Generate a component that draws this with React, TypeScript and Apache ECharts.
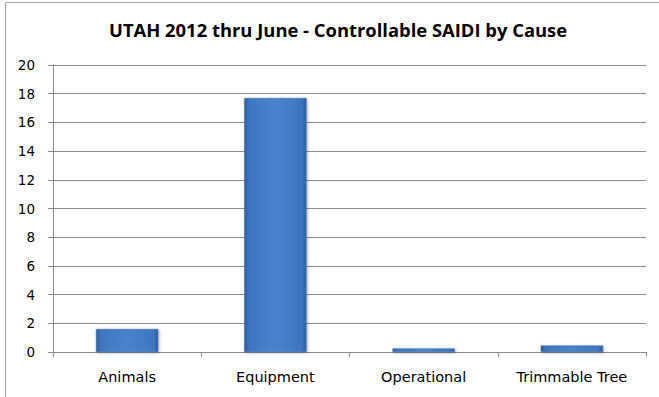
import React, { useEffect, useRef } from "react";
import * as echarts from "echarts";

const categories = ["Animals", "Equipment", "Operational", "Trimmable Tree"];
const saidiValues = [1.6, 17.7, 0.25, 0.45];
const titleText = "UTAH 2012 thru June - Controllable SAIDI by Cause";

export default function App() {
  const ref = useRef<HTMLDivElement>(null);
  useEffect(() => {
    if (!ref.current) return;
    const chart = echarts.init(ref.current, null, { renderer: "svg" });
    const titleFont = "'Open Sans', sans-serif";
    const font = "'DejaVu Sans', Verdana, sans-serif";
    chart.setOption({
      animation: false,
      backgroundColor: "#ffffff",
      title: {
        text: titleText,
        left: 104,
        top: 15,
        textStyle: { fontFamily: titleFont, fontSize: 18.4, fontWeight: "bold", color: "#000" },
      },
      graphic: [
        {
          type: "rect",
          shape: { x: 5.5, y: 2.5, width: 800, height: 600 },
          style: { fill: "none", stroke: "#a6a6a6", lineWidth: 1 },
          silent: true,
        },
      ],
      grid: { left: 53, right: 13, top: 65, bottom: 45 },
      xAxis: {
        type: "category",
        data: categories,
        axisLine: { lineStyle: { color: "#8c8c8c", width: 1 } },
        axisTick: { show: true, length: 5, lineStyle: { color: "#8c8c8c" } },
        axisLabel: { fontFamily: font, fontSize: 14.5, color: "#000", margin: 17 },
      },
      yAxis: {
        type: "value",
        min: 0,
        max: 20,
        interval: 2,
        axisLine: { show: true, lineStyle: { color: "#8c8c8c" } },
        axisTick: { show: true, length: 5, lineStyle: { color: "#8c8c8c" } },
        axisLabel: { fontFamily: font, fontSize: 13.5, color: "#000", margin: 18 },
        splitLine: { lineStyle: { color: "#8c8c8c", width: 1 } },
      },
      series: [
        {
          type: "bar",
          data: saidiValues,
          barWidth: "42%",
          itemStyle: {
            color: new echarts.graphic.LinearGradient(0, 0, 1, 0, [
              { offset: 0, color: "#2f5f9e" },
              { offset: 0.08, color: "#3f76bf" },
              { offset: 0.5, color: "#4a82cc" },
              { offset: 0.92, color: "#3f76bf" },
              { offset: 1, color: "#2f5f9e" },
            ]),
            borderColor: "#3a6aa8",
            borderWidth: 0.5,
            shadowColor: "rgba(0,0,0,0.35)",
            shadowBlur: 3,
            shadowOffsetX: 1,
            shadowOffsetY: 1,
          },
        },
      ],
    });
    return () => chart.dispose();
  }, []);
  return (
    <div
      ref={ref}
      style={{ position: "absolute", left: 0, top: 0, width: 659, height: 397 }}
    />
  );
}
